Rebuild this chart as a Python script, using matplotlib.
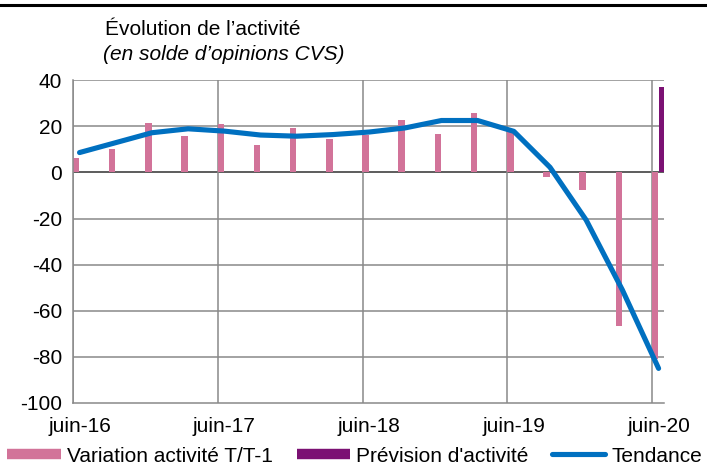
import numpy as np
import matplotlib
matplotlib.use('Agg')
import matplotlib.pyplot as plt
from matplotlib.lines import Line2D

plt.rcParams['font.family'] = ['Liberation Sans', 'DejaVu Sans']
plt.rcParams['axes.unicode_minus'] = False

# quarterly data, juin-16 .. juin-20
quarters = ['juin-16', 'sept-16', 'déc-16', 'mars-17', 'juin-17', 'sept-17',
            'déc-17', 'mars-18', 'juin-18', 'sept-18', 'déc-18', 'mars-19',
            'juin-19', 'sept-19', 'déc-19', 'mars-20', 'juin-20']
variation = [6.4, 10.3, 21.6, 15.7, 21.2, 11.7, 19.3, 14.6, 16.4, 22.6,
             16.6, 25.6, 18.5, -1.9, -7.5, -66.4, -81]
prevision_idx = [16]
prevision = [37]
tendance = [8.6, 12.9, 17.2, 18.9, 17.9, 16.2, 15.7, 16.4, 17.5, 19.3,
            22.5, 22.5, 17.8, 2.2, -20.7, -51, -85]
tick_labels = ['juin-16', 'juin-17', 'juin-18', 'juin-19', 'juin-20']

pink = '#D27399'
purple = '#7B1173'
blue = '#0070C0'
grey = '#898989'
fs = 15

fig = plt.figure(figsize=(7.07, 4.66), dpi=100)
ax = fig.add_axes([0.1033, 0.1352, 0.9392 - 0.1033, 0.828 - 0.1352])

x = np.arange(len(quarters))
bw = 0.18
ax.bar(x - 0.097, variation, width=bw, color=pink, zorder=2)
ax.bar(np.array(prevision_idx) + 0.1, prevision, width=bw, color=purple,
       zorder=2)
ax.plot(x, tendance, color=blue, lw=3.7, solid_capstyle='round',
        solid_joinstyle='round', zorder=3)

# gridlines
for yv in range(-80, 41, 20):
    ax.axhline(yv, color='#303030' if yv == 0 else grey, lw=1.1, zorder=1)
grid_x = [i - 0.18 for i in range(0, 17, 4)]
for gx in grid_x:
    ax.axvline(gx, color=grey, lw=1.1, zorder=1)

ax.set_xlim(-0.18, 16.15)
ax.set_ylim(-100, 40)
ax.set_yticks(range(-100, 41, 20))
ax.set_xticks(range(0, 17, 4))
ax.set_xticklabels(tick_labels)
ax.tick_params(axis='both', length=0, labelsize=fs)
ax.tick_params(axis='y', pad=8)
ax.tick_params(axis='x', pad=10)
for s in ['top', 'right']:
    ax.spines[s].set_visible(False)
for s in ['left', 'bottom']:
    ax.spines[s].set_color(grey)
    ax.spines[s].set_linewidth(1.1)

fig.text(0.1485, 0.925, 'Évolution de l\u2019activité', fontsize=fs,
         va='baseline', ha='left')
fig.text(0.1457, 0.871, '(en solde d\u2019opinions CVS)', fontsize=fs,
         style='italic', va='baseline', ha='left')

# top rule
fig.add_artist(Line2D([0, 1], [0.989, 0.989], color='black', lw=2.2,
                      transform=fig.transFigure))

handles = [Line2D([], [], color=pink, lw=7.5, solid_capstyle='butt'),
           Line2D([], [], color=purple, lw=7.5, solid_capstyle='butt'),
           Line2D([], [], color=blue, lw=3.7, solid_capstyle='round')]
labels = ['Variation activité T/T-1', "Prévision d'activité", 'Tendance']
fig.legend(handles, labels, loc='center', bbox_to_anchor=(0.502, 0.021),
           ncol=3, frameon=False, fontsize=fs, handlelength=2.55,
           handletextpad=0.3, columnspacing=1.15, borderpad=0,
           borderaxespad=0)

fig.savefig('out.png', dpi=100)
